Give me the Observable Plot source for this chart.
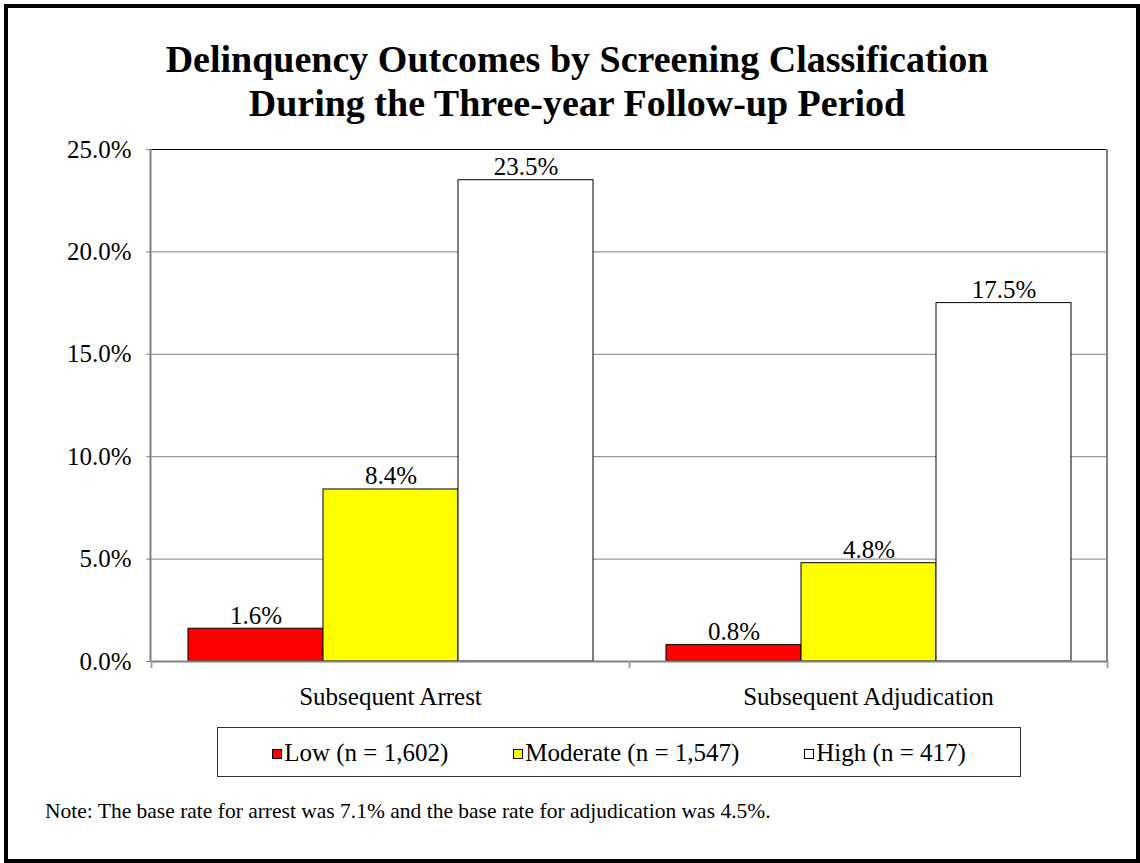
<!DOCTYPE html>
<html><head><meta charset="utf-8">
<script src="https://cdn.jsdelivr.net/npm/d3@7"></script>
<script src="https://cdn.jsdelivr.net/npm/@observablehq/plot@0.6"></script>
<style>
body{margin:0;background:#fff;}
#page{position:relative;width:1140px;height:863px;overflow:hidden;font-family:"Liberation Serif","Times New Roman",serif;color:#000;background:#fff;}
#border{position:absolute;left:4px;top:4px;width:1136px;height:859px;border:4px solid #000;box-sizing:border-box;}
#chart{position:absolute;left:0;top:0;}
#title{position:absolute;left:0;top:37px;width:1154px;text-align:center;font-weight:bold;font-size:38px;line-height:44px;}
#legend{position:absolute;left:217px;top:727px;width:804px;height:50px;box-sizing:border-box;border:1px solid #333;display:flex;align-items:center;justify-content:center;gap:65px;font-size:25px;line-height:25px;background:#fff;}
.item{display:flex;align-items:center;}
.sw{width:10px;height:10px;box-sizing:border-box;border:1px solid #000;margin-right:2px;margin-top:3px;}
#note{position:absolute;left:45px;top:800px;font-size:21.5px;line-height:22px;white-space:nowrap;}
</style></head>
<body><div id="page"><div id="border"></div><div id="chart"></div><div id="title"></div><div id="legend"></div><div id="note"></div></div>
<script>
const categories = ["Subsequent Arrest", "Subsequent Adjudication"];
const classes = ["Low", "Moderate", "High"];
const classLabels = ["Low (n = 1,602)", "Moderate (n = 1,547)", "High (n = 417)"];
const lowValues = [0.016, 0.008];
const moderateValues = [0.084, 0.048];
const highValues = [0.235, 0.175];
const classColors = ["#FF0000", "#FFFF00", "#FFFFFF"];
const yTicks = [0, 0.05, 0.10, 0.15, 0.20, 0.25];
const titleLines = ["Delinquency Outcomes by Screening Classification", "During the Three-year Follow-up Period"];
const noteText = "Note: The base rate for arrest was 7.1% and the base rate for adjudication was 4.5%.";

const series = [lowValues, moderateValues, highValues];
const rows = [];
categories.forEach((c, i) => classes.forEach((k, j) => rows.push({category: c, cls: k, value: series[j][i]})));
const pct = d3.format(".1%");

const plot = Plot.plot({
  width: 1140, height: 725,
  marginTop: 149, marginLeft: 150, marginRight: 33, marginBottom: 64,
  style: {fontFamily: '"Liberation Serif","Times New Roman",serif', fontSize: "25px", background: "transparent", color: "#000", overflow: "visible"},
  fx: {domain: categories, padding: 0, label: null},
  x: {domain: classes, paddingInner: 0, paddingOuter: 0.26, axis: null},
  y: {domain: [0, 0.25], ticks: yTicks, tickFormat: pct, label: null},
  color: {domain: classes, range: classColors},
  marks: [
    Plot.gridY(yTicks, {stroke: "#808080", strokeOpacity: 1}),
    Plot.axisY(yTicks, {tickSize: 5, tickPadding: 15, stroke: "#808080", fill: "#000", tickFormat: pct, label: null, fontSize: 25}),
    Plot.axisFx({anchor: "bottom", tickSize: 0, tickPadding: 26, label: null, fontSize: 25, fill: "#000"}),
    Plot.barY(rows, {fx: "category", x: "cls", y: "value", fill: "cls", stroke: "#000", strokeWidth: 1, inset: 0}),
    Plot.ruleY([0.25], {stroke: "#000"}),
    Plot.ruleY([0], {stroke: "#808080", strokeWidth: 2}),
    Plot.text(rows, {fx: "category", x: "cls", y: "value", text: d => pct(d.value), lineAnchor: "bottom", dy: -5, fontSize: 25, fill: "#000"})
  ]
});
document.getElementById("chart").appendChild(plot);

// plot-area edges and category boundary ticks, positioned from the plot's own scales
const fx = plot.scale("fx"), ys = plot.scale("y");
const svg = d3.select(plot);
const [xL, xR] = fx.range;
const yTop = ys.apply(0.25), yBase = ys.apply(0);
const g = svg.append("g").attr("stroke", "#808080").attr("fill", "none");
g.append("line").attr("x1", xL + 0.5).attr("x2", xL + 0.5).attr("y1", yTop).attr("y2", yBase).attr("stroke-width", 2);
g.append("line").attr("x1", xR).attr("x2", xR).attr("y1", yTop).attr("y2", yBase).attr("stroke-width", 2);
const bounds = categories.map(c => fx.apply(c)).concat([xR]);
bounds.forEach(b => g.append("line").attr("x1", b + 0.5).attr("x2", b + 0.5).attr("y1", yBase).attr("y2", yBase + 7).attr("stroke", "#a0a0a0").attr("stroke-width", 2));

document.getElementById("title").innerHTML = titleLines.join("<br>");
const legend = document.getElementById("legend");
classLabels.forEach((lab, j) => {
  const it = document.createElement("div"); it.className = "item";
  const sw = document.createElement("div"); sw.className = "sw"; sw.style.background = classColors[j];
  const tx = document.createElement("span"); tx.textContent = lab;
  it.appendChild(sw); it.appendChild(tx); legend.appendChild(it);
});
document.getElementById("note").textContent = noteText;
</script>
</body></html>
